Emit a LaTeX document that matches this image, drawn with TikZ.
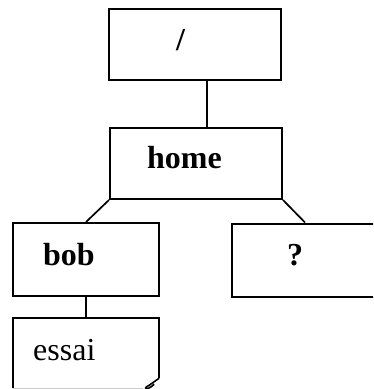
\documentclass[tikz,border=0pt]{standalone}
\usepackage{fontspec}
\setmainfont{Liberation Serif}
\usetikzlibrary{positioning}

\tikzset{
  dirbox/.style={draw, line width=2pt, minimum width=172pt,
    minimum height=71pt, inner sep=0pt},
  leafbox/.style={dirbox, minimum width=146pt, minimum height=73pt},
  link/.style={line width=1.7pt},
  dirlabel/.style={anchor=base west, inner sep=0pt,
    font=\fontsize{32}{36}\selectfont}
}

\begin{document}
\begin{tikzpicture}[x=1pt,y=-1pt]

\useasboundingbox (0,0) rectangle (373,389);
\clip (0,0) rectangle (373,389);

% directories
\node[dirbox] (root) at (195,44.5) {};
\node[dirbox] (home) at (196,163.5) {};
\node[leafbox] (bob) at (86,259.5) {};
\node[leafbox] (unknown) at (305,260) {};

% file with folded corner
\node[minimum width=146pt, minimum height=70pt, inner sep=0pt]
    (essai) at (86,353) {};
\draw[line width=2pt] (essai.south west) -- (essai.north west) --
    (essai.north east) -- ([yshift=10pt]essai.south east);
\draw[line width=1.6pt, line join=round] ([yshift=10pt]essai.south east) --
    ([xshift=-10pt,yshift=3pt]essai.south east) .. controls
    ([xshift=-18pt,yshift=-1pt]essai.south east) and
    ([xshift=-12pt,yshift=-3pt]essai.south east) ..
    ([xshift=-5pt,yshift=4pt]essai.south east);
\draw[gray!40, line width=0.6pt] (essai.south west) --
    ([xshift=-16pt]essai.south east);

% labels
\node[dirlabel] (rootname) at (176,50) {\bfseries /};
\node[dirlabel] (homename) at (147,168) {\bfseries home};
\node[dirlabel] (bobname) at (43,265) {\bfseries bob};
\node[dirlabel] (unknownname) at (287,265) {\bfseries ?};
\node[dirlabel] (essainame) at (33,360) {essai};

% links
\draw[link] ([xshift=12pt]root.south) -- ([xshift=11pt]home.north);
\draw[link] (home.south west) -- (bob.north);
\draw[link] (home.south east) -- (unknown.north);
\draw[link] (bob.south) -- (essai.north);

\end{tikzpicture}
\end{document}
